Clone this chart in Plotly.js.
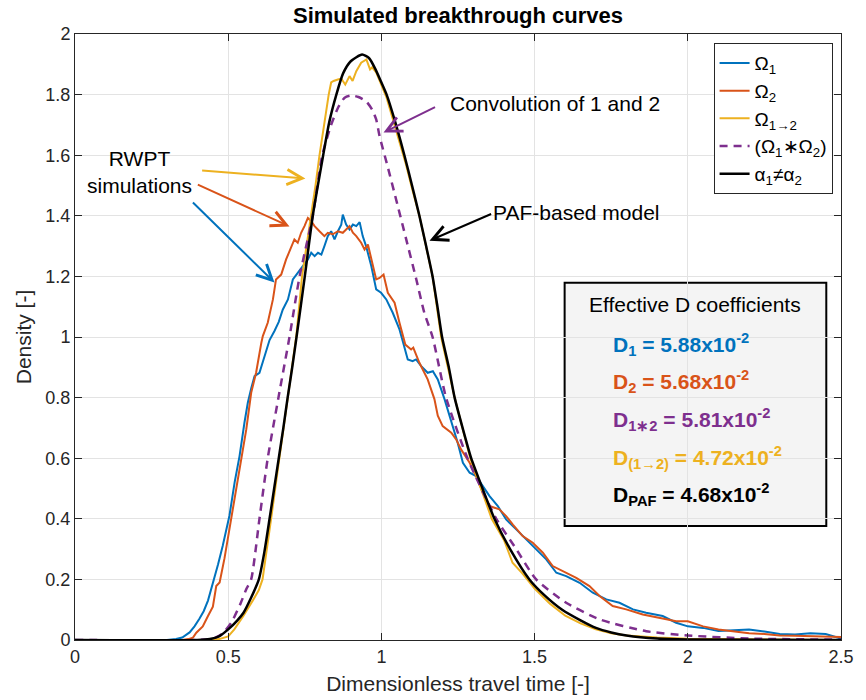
<!DOCTYPE html>
<html>
<head>
<meta charset="utf-8">
<script src="https://cdn.plot.ly/plotly-3.0.1.min.js"></script>
<style>html,body{margin:0;padding:0;background:#fff;}#chart{width:866px;height:700px;}</style>
</head>
<body>
<div id="chart"></div>
<script>
// ---- Data ----
var omega1X = [0,0.30,0.33,0.35,0.374,0.39,0.406,0.42,0.434,0.45,0.467,0.482,0.493,0.504,0.521,0.537,0.553,0.564,0.575,0.586,0.602,0.618,0.635,0.651,0.665,0.678,0.695,0.711,0.727,0.744,0.76,0.771,0.782,0.793,0.804,0.814,0.825,0.836,0.847,0.858,0.869,0.874,0.885,0.896,0.907,0.918,0.929,0.939,0.95,0.967,0.983,0.999,1.016,1.037,1.059,1.07,1.086,1.102,1.113,1.13,1.151,1.168,1.184,1.206,1.228,1.249,1.266,1.288,1.309,1.331,1.353,1.38,1.407,1.44,1.473,1.505,1.538,1.571,1.603,1.647,1.69,1.734,1.777,1.821,1.864,1.918,1.962,2.0,2.05,2.1,2.15,2.2,2.25,2.3,2.35,2.4,2.45,2.48,2.5];
var omega1Y = [0,0,0.003,0.008,0.025,0.045,0.07,0.095,0.13,0.185,0.25,0.31,0.36,0.41,0.52,0.607,0.717,0.783,0.83,0.871,0.882,0.937,0.99,1.02,1.05,1.09,1.124,1.19,1.212,1.234,1.256,1.278,1.267,1.278,1.272,1.30,1.333,1.349,1.322,1.349,1.371,1.404,1.371,1.355,1.371,1.366,1.379,1.333,1.30,1.234,1.157,1.146,1.124,1.08,1.025,0.985,0.926,0.92,0.926,0.904,0.882,0.887,0.86,0.795,0.722,0.651,0.585,0.552,0.541,0.508,0.475,0.442,0.398,0.365,0.332,0.299,0.266,0.222,0.211,0.189,0.156,0.134,0.123,0.101,0.09,0.079,0.057,0.045,0.04,0.03,0.033,0.035,0.028,0.02,0.018,0.022,0.02,0.01,0.005];

var omega2X = [0,0.35,0.37,0.385,0.396,0.417,0.434,0.45,0.461,0.472,0.488,0.50,0.521,0.542,0.559,0.575,0.591,0.608,0.613,0.629,0.646,0.656,0.673,0.689,0.706,0.716,0.727,0.738,0.749,0.76,0.771,0.782,0.798,0.814,0.825,0.841,0.858,0.874,0.885,0.896,0.907,0.918,0.934,0.945,0.956,0.967,0.983,0.994,1.007,1.021,1.043,1.059,1.07,1.078,1.097,1.104,1.124,1.151,1.173,1.184,1.2,1.228,1.244,1.26,1.288,1.309,1.331,1.353,1.385,1.407,1.429,1.461,1.494,1.527,1.559,1.603,1.636,1.679,1.712,1.755,1.799,1.853,1.908,1.962,2.0,2.05,2.1,2.15,2.2,2.25,2.3,2.35,2.4,2.45,2.5];
var omega2Y = [0,0,0.003,0.008,0.024,0.045,0.079,0.11,0.178,0.19,0.27,0.34,0.475,0.585,0.695,0.816,0.882,0.98,1.003,1.047,1.124,1.19,1.206,1.256,1.30,1.322,1.311,1.344,1.366,1.393,1.382,1.366,1.349,1.333,1.344,1.339,1.349,1.344,1.355,1.366,1.344,1.333,1.311,1.289,1.305,1.256,1.19,1.195,1.206,1.146,1.113,1.047,1.0,0.975,0.959,0.965,0.915,0.86,0.795,0.74,0.706,0.684,0.662,0.629,0.585,0.541,0.486,0.442,0.431,0.409,0.381,0.343,0.321,0.288,0.244,0.222,0.205,0.178,0.145,0.112,0.101,0.084,0.073,0.062,0.062,0.045,0.035,0.028,0.022,0.02,0.015,0.014,0.012,0.01,0.01];

var omega12X = [0,0.44,0.47,0.5,0.52,0.55,0.58,0.60,0.612,0.625,0.64,0.667,0.694,0.722,0.741,0.771,0.785,0.798,0.81,0.82,0.828,0.836,0.844,0.858,0.869,0.882,0.896,0.906,0.918,0.934,0.951,0.963,0.97,0.983,1.0,1.017,1.04,1.06,1.08,1.10,1.124,1.167,1.195,1.239,1.29,1.36,1.40,1.428,1.46,1.5,1.55,1.6,1.65,1.7,1.75,1.8,1.9,2.0,2.2,2.5];
var omega12Y = [0,0,0.003,0.012,0.035,0.08,0.13,0.165,0.2,0.29,0.4,0.6,0.8,1.0,1.2,1.4,1.5,1.6,1.68,1.76,1.8,1.84,1.845,1.85,1.853,1.833,1.861,1.845,1.877,1.905,1.916,1.883,1.89,1.873,1.83,1.79,1.71,1.64,1.57,1.49,1.4,1.2,1.0,0.8,0.6,0.4,0.33,0.255,0.22,0.17,0.12,0.08,0.055,0.035,0.022,0.015,0.008,0.004,0.002,0];

var convX = [0,0.40,0.45,0.48,0.51,0.54,0.56,0.575,0.602,0.629,0.664,0.70,0.733,0.776,0.807,0.836,0.86,0.88,0.901,0.925,0.95,0.97,0.983,0.994,1.02,1.048,1.081,1.114,1.14,1.167,1.211,1.281,1.375,1.44,1.505,1.603,1.712,1.864,2.0,2.2,2.5];
var convY = [0,0,0.005,0.02,0.057,0.12,0.17,0.2,0.4,0.6,0.8,1.0,1.2,1.4,1.6,1.7,1.76,1.79,1.797,1.792,1.778,1.75,1.718,1.663,1.564,1.454,1.322,1.19,1.08,1.0,0.8,0.6,0.4,0.3,0.2,0.123,0.068,0.029,0.015,0.005,0.001];

var pafX = [0,0.40,0.44,0.47,0.50,0.53,0.55,0.575,0.60,0.618,0.635,0.65,0.665,0.68,0.694,0.709,0.723,0.75,0.776,0.81,0.83,0.853,0.875,0.90,0.937,0.96,0.98,1.0,1.017,1.045,1.075,1.10,1.124,1.146,1.167,1.183,1.198,1.22,1.239,1.265,1.293,1.33,1.369,1.42,1.483,1.53,1.59,1.65,1.70,1.75,1.80,1.90,2.0,2.5];
var pafY = [0,0,0.003,0.012,0.035,0.065,0.09,0.14,0.2,0.29,0.4,0.5,0.6,0.7,0.8,0.9,1.0,1.2,1.4,1.6,1.71,1.8,1.87,1.91,1.932,1.92,1.885,1.84,1.8,1.71,1.6,1.5,1.4,1.3,1.2,1.1,1.0,0.9,0.8,0.7,0.6,0.5,0.4,0.3,0.2,0.15,0.1,0.065,0.04,0.025,0.015,0.005,0.002,0];

var seriesNames = ['Ω<sub>1</sub>','Ω<sub>2</sub>','Ω<sub>1→2</sub>','(Ω<sub>1</sub>∗Ω<sub>2</sub>)','α<sub>1</sub>≠α<sub>2</sub>'];
var seriesColors = ['#0072BD','#D95319','#EDB120','#7E2F8E','#000000'];

var xTicks = [0,0.5,1,1.5,2,2.5];
var yTicks = [0,0.2,0.4,0.6,0.8,1,1.2,1.4,1.6,1.8,2];

var coefLabels = ['D<sub>1</sub> = 5.88x10<sup>-2</sup>','D<sub>2</sub> = 5.68x10<sup>-2</sup>','D<sub>1∗2</sub> = 5.81x10<sup>-2</sup>','D<sub>(1→2)</sub> = 4.72x10<sup>-2</sup>','D<sub>PAF</sub> = 4.68x10<sup>-2</sup>'];
var coefColors = ['#0072BD','#D95319','#7E2F8E','#EDB120','#000000'];

// ---- Plot ----
var FONT = 'Liberation Sans, Arial, Helvetica, sans-serif';
var traces = [
  {x: omega1X, y: omega1Y, name: seriesNames[0], mode:'lines', line:{color:seriesColors[0], width:2}},
  {x: omega2X, y: omega2Y, name: seriesNames[1], mode:'lines', line:{color:seriesColors[1], width:2}},
  {x: omega12X, y: omega12Y, name: seriesNames[2], mode:'lines', line:{color:seriesColors[2], width:2}},
  {x: convX, y: convY, name: seriesNames[3], mode:'lines', line:{color:seriesColors[3], width:2.5, dash:'8px,6px', shape:'spline', smoothing:0.6}},
  {x: pafX, y: pafY, name: seriesNames[4], mode:'lines', line:{color:seriesColors[4], width:2.5, shape:'spline', smoothing:0.6}}
];

var coefY = [0.975,0.853,0.728,0.602,0.48];
var annotations = [];
annotations.push({x:1.568, y:1.771, xref:'x', yref:'y', text:'Convolution of 1 and 2', showarrow:false, font:{family:FONT, size:21, color:'#000'}});
annotations.push({x:1.637, y:1.411, xref:'x', yref:'y', text:'PAF-based model', showarrow:false, font:{family:FONT, size:21, color:'#000'}});
annotations.push({x:0.21, y:1.546, xref:'x', yref:'y', text:'RWPT<br>simulations', showarrow:false, font:{family:FONT, size:21, color:'#000'}});
function arrow(x, y, ax, ay, color){
  return {x:x, y:y, ax:ax, ay:ay, xref:'x', yref:'y', axref:'x', ayref:'y', text:'', showarrow:true,
          arrowhead:5, arrowsize:1.5, arrowwidth:2, arrowcolor:color};
}
annotations.push(arrow(1.007, 1.675, 1.18, 1.761, '#7E2F8E'));
annotations.push(arrow(1.157, 1.318, 1.363, 1.408, '#000000'));
annotations.push(arrow(0.752, 1.523, 0.41, 1.55, '#EDB120'));
annotations.push(arrow(0.70, 1.365, 0.396, 1.505, '#D95319'));
annotations.push(arrow(0.651, 1.18, 0.38, 1.449, '#0072BD'));
annotations.push({x:2.022, y:1.107, xref:'x', yref:'y', text:'Effective D coefficients', showarrow:false, font:{family:FONT, size:21, color:'#000'}});
for (var i=0;i<coefLabels.length;i++){
  annotations.push({x:1.75, y:coefY[i], xref:'x', yref:'y', xanchor:'left', text:'<b>'+coefLabels[i]+'</b>', showarrow:false,
                    font:{family:FONT, size:21, color:coefColors[i]}});
}

var axisCommon = {
  showgrid:true, gridcolor:'#e3e3e3', gridwidth:1,
  showline:true, linecolor:'#262626', linewidth:1, mirror:'ticks',
  ticks:'inside', ticklen:7, tickcolor:'#262626', tickwidth:1,
  tickfont:{family:FONT, size:18, color:'#262626'},
  zeroline:false, automargin:false
};

var layout = {
  width:866, height:700,
  margin:{l:75, r:25, t:34, b:60},
  paper_bgcolor:'#ffffff', plot_bgcolor:'#ffffff',
  font:{family:FONT, color:'#000'},
  title:{text:'<b>Simulated breakthrough curves</b>', font:{family:FONT, size:22, color:'#000'}, x:0.5, xref:'paper', xanchor:'center', y:0.978, yref:'container', yanchor:'middle'},
  xaxis:Object.assign({}, axisCommon, {range:[0,2.5], tickvals:xTicks, ticktext:xTicks.map(String),
     title:{text:'Dimensionless travel time [-]', font:{family:FONT, size:21, color:'#262626'}, standoff:10}}),
  yaxis:Object.assign({}, axisCommon, {range:[0,2], tickvals:yTicks, ticktext:yTicks.map(String),
     title:{text:'Density [-]', font:{family:FONT, size:21, color:'#262626'}, standoff:8}}),
  showlegend:true,
  legend:{x:0.989, y:0.985, xanchor:'right', yanchor:'top', bgcolor:'#ffffff', bordercolor:'#262626', borderwidth:1,
          font:{family:FONT, size:19, color:'#000'}, itemwidth:30, tracegroupgap:0},
  shapes:[{type:'rect', xref:'x', yref:'y', x0:1.598, x1:2.452, y0:0.376, y1:1.179, layer:'below',
           fillcolor:'#f4f4f4', line:{color:'#000', width:2}}],
  annotations:annotations
};

Plotly.newPlot('chart', traces, layout, {displayModeBar:false, staticPlot:true});
</script>
</body>
</html>
